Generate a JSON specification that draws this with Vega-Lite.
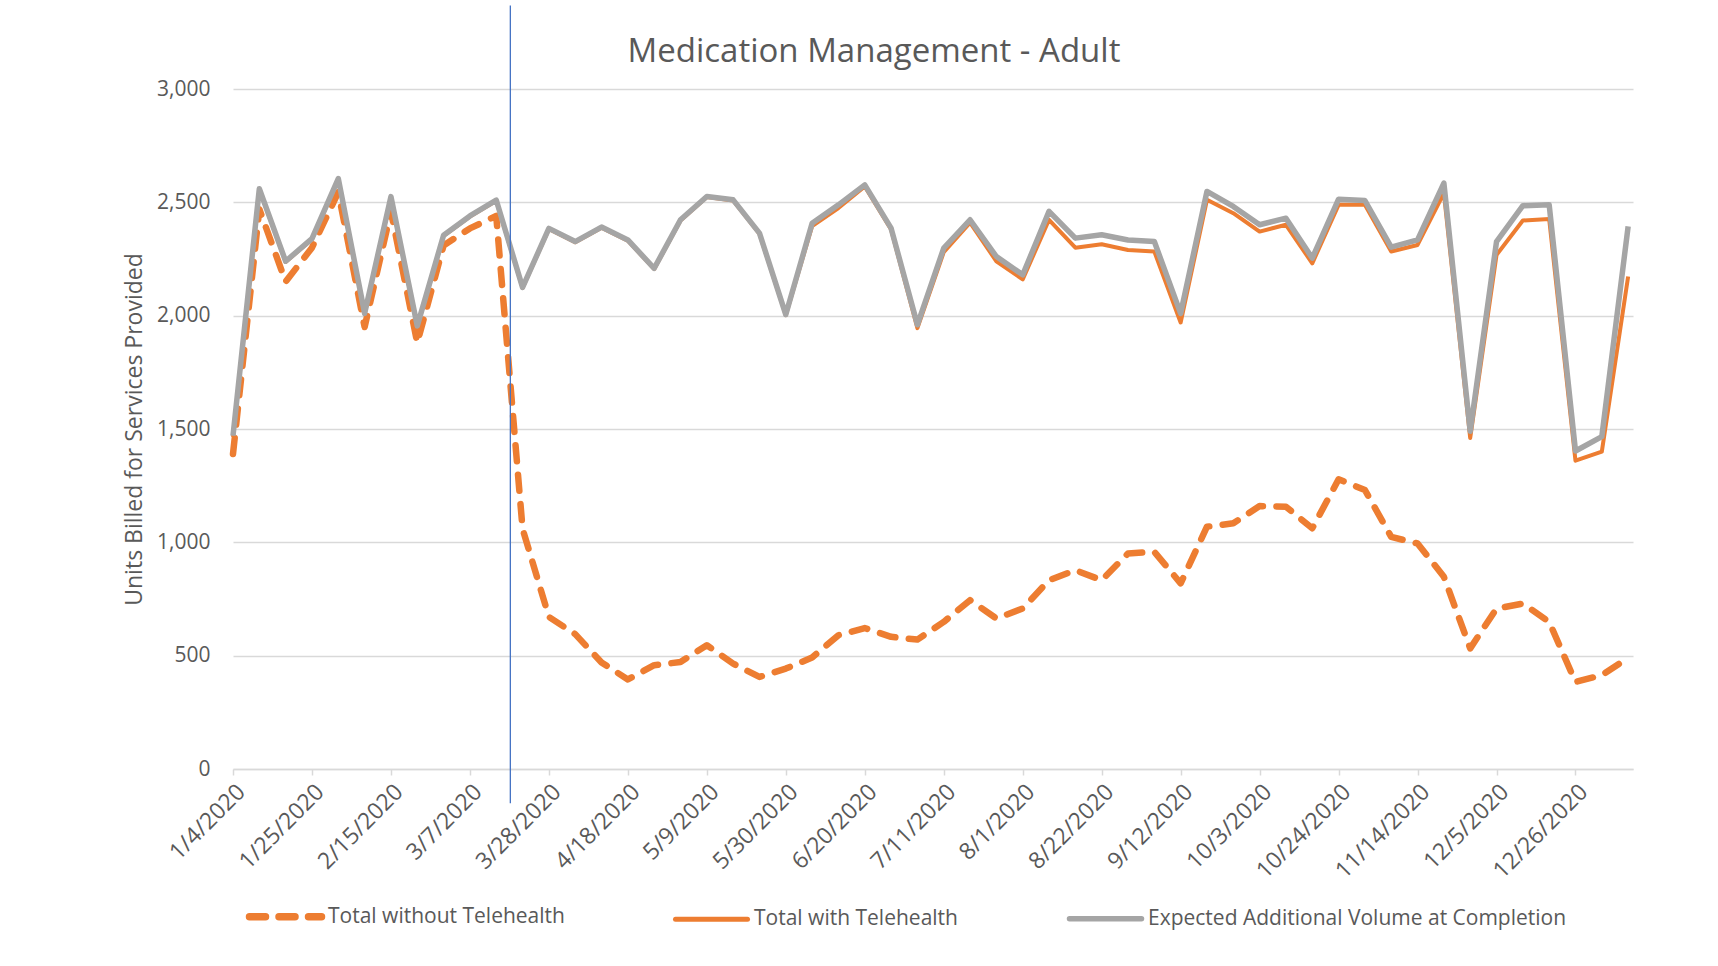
{
  "$schema": "https://vega.github.io/schema/vega-lite/v6.json",
  "width": 1400,
  "height": 680,
  "autosize": {"type": "none"},
  "padding": {"left": 233, "top": 89, "right": 85, "bottom": 197},
  "background": "white",
  "config": {
    "font": "Open Sans",
    "view": {"stroke": null}
  },
  "title": {
    "text": "Medication Management - Adult",
    "font": "Open Sans",
    "fontSize": 33,
    "fontWeight": "normal",
    "color": "#595959",
    "anchor": "middle",
    "frame": "group",
    "dx": -59,
    "offset": -90,
    "baseline": "alphabetic"
  },
  "data": {
    "values": [
      {"date": "2020-01-04T00:00:00", "without_telehealth": 1390, "with_telehealth": 1465, "expected_volume": 1470},
      {"date": "2020-01-11T00:00:00", "without_telehealth": 2470, "with_telehealth": 2557, "expected_volume": 2560},
      {"date": "2020-01-18T00:00:00", "without_telehealth": 2150, "with_telehealth": 2237, "expected_volume": 2240},
      {"date": "2020-01-25T00:00:00", "without_telehealth": 2300, "with_telehealth": 2337, "expected_volume": 2340},
      {"date": "2020-02-01T00:00:00", "without_telehealth": 2545, "with_telehealth": 2602, "expected_volume": 2605},
      {"date": "2020-02-08T00:00:00", "without_telehealth": 1950, "with_telehealth": 2007, "expected_volume": 2010},
      {"date": "2020-02-15T00:00:00", "without_telehealth": 2460, "with_telehealth": 2522, "expected_volume": 2525},
      {"date": "2020-02-22T00:00:00", "without_telehealth": 1880, "with_telehealth": 1952, "expected_volume": 1955},
      {"date": "2020-02-29T00:00:00", "without_telehealth": 2310, "with_telehealth": 2352, "expected_volume": 2355},
      {"date": "2020-03-07T00:00:00", "without_telehealth": 2385, "with_telehealth": 2437, "expected_volume": 2440},
      {"date": "2020-03-14T00:00:00", "without_telehealth": 2440, "with_telehealth": 2507, "expected_volume": 2510},
      {"date": "2020-03-21T00:00:00", "without_telehealth": 1060, "with_telehealth": 2122, "expected_volume": 2125},
      {"date": "2020-03-28T00:00:00", "without_telehealth": 671, "with_telehealth": 2382, "expected_volume": 2385},
      {"date": "2020-04-04T00:00:00", "without_telehealth": 595, "with_telehealth": 2324, "expected_volume": 2327},
      {"date": "2020-04-11T00:00:00", "without_telehealth": 470, "with_telehealth": 2388, "expected_volume": 2391},
      {"date": "2020-04-18T00:00:00", "without_telehealth": 395, "with_telehealth": 2331, "expected_volume": 2334},
      {"date": "2020-04-25T00:00:00", "without_telehealth": 458, "with_telehealth": 2206, "expected_volume": 2209},
      {"date": "2020-05-02T00:00:00", "without_telehealth": 472, "with_telehealth": 2420, "expected_volume": 2423},
      {"date": "2020-05-09T00:00:00", "without_telehealth": 546, "with_telehealth": 2523, "expected_volume": 2526},
      {"date": "2020-05-16T00:00:00", "without_telehealth": 465, "with_telehealth": 2508, "expected_volume": 2511},
      {"date": "2020-05-23T00:00:00", "without_telehealth": 406, "with_telehealth": 2361, "expected_volume": 2364},
      {"date": "2020-05-30T00:00:00", "without_telehealth": 443, "with_telehealth": 2002, "expected_volume": 2005},
      {"date": "2020-06-06T00:00:00", "without_telehealth": 492, "with_telehealth": 2395, "expected_volume": 2408},
      {"date": "2020-06-13T00:00:00", "without_telehealth": 590, "with_telehealth": 2475, "expected_volume": 2489},
      {"date": "2020-06-20T00:00:00", "without_telehealth": 622, "with_telehealth": 2570, "expected_volume": 2577},
      {"date": "2020-06-27T00:00:00", "without_telehealth": 583, "with_telehealth": 2380, "expected_volume": 2386},
      {"date": "2020-07-04T00:00:00", "without_telehealth": 571, "with_telehealth": 1945, "expected_volume": 1960},
      {"date": "2020-07-11T00:00:00", "without_telehealth": 649, "with_telehealth": 2280, "expected_volume": 2298},
      {"date": "2020-07-18T00:00:00", "without_telehealth": 745, "with_telehealth": 2410, "expected_volume": 2423},
      {"date": "2020-07-25T00:00:00", "without_telehealth": 664, "with_telehealth": 2240, "expected_volume": 2261},
      {"date": "2020-08-01T00:00:00", "without_telehealth": 708, "with_telehealth": 2160, "expected_volume": 2180},
      {"date": "2020-08-08T00:00:00", "without_telehealth": 833, "with_telehealth": 2423, "expected_volume": 2460},
      {"date": "2020-08-15T00:00:00", "without_telehealth": 877, "with_telehealth": 2300, "expected_volume": 2342},
      {"date": "2020-08-22T00:00:00", "without_telehealth": 833, "with_telehealth": 2315, "expected_volume": 2357},
      {"date": "2020-08-29T00:00:00", "without_telehealth": 951, "with_telehealth": 2290, "expected_volume": 2334},
      {"date": "2020-09-05T00:00:00", "without_telehealth": 958, "with_telehealth": 2283, "expected_volume": 2327},
      {"date": "2020-09-12T00:00:00", "without_telehealth": 819, "with_telehealth": 1970, "expected_volume": 2010},
      {"date": "2020-09-19T00:00:00", "without_telehealth": 1069, "with_telehealth": 2511, "expected_volume": 2548},
      {"date": "2020-09-26T00:00:00", "without_telehealth": 1084, "with_telehealth": 2452, "expected_volume": 2482},
      {"date": "2020-10-03T00:00:00", "without_telehealth": 1160, "with_telehealth": 2371, "expected_volume": 2401},
      {"date": "2020-10-10T00:00:00", "without_telehealth": 1157, "with_telehealth": 2401, "expected_volume": 2430},
      {"date": "2020-10-17T00:00:00", "without_telehealth": 1062, "with_telehealth": 2231, "expected_volume": 2254},
      {"date": "2020-10-24T00:00:00", "without_telehealth": 1278, "with_telehealth": 2489, "expected_volume": 2514},
      {"date": "2020-10-31T00:00:00", "without_telehealth": 1231, "with_telehealth": 2489, "expected_volume": 2508},
      {"date": "2020-11-07T00:00:00", "without_telehealth": 1024, "with_telehealth": 2283, "expected_volume": 2302},
      {"date": "2020-11-14T00:00:00", "without_telehealth": 995, "with_telehealth": 2312, "expected_volume": 2334},
      {"date": "2020-11-21T00:00:00", "without_telehealth": 848, "with_telehealth": 2541, "expected_volume": 2585},
      {"date": "2020-11-28T00:00:00", "without_telehealth": 532, "with_telehealth": 1460, "expected_volume": 1490},
      {"date": "2020-12-05T00:00:00", "without_telehealth": 708, "with_telehealth": 2268, "expected_volume": 2327},
      {"date": "2020-12-12T00:00:00", "without_telehealth": 730, "with_telehealth": 2420, "expected_volume": 2485},
      {"date": "2020-12-19T00:00:00", "without_telehealth": 649, "with_telehealth": 2426, "expected_volume": 2489},
      {"date": "2020-12-26T00:00:00", "without_telehealth": 384, "with_telehealth": 1360, "expected_volume": 1403},
      {"date": "2021-01-02T00:00:00", "without_telehealth": 414, "with_telehealth": 1400, "expected_volume": 1466},
      {"date": "2021-01-09T00:00:00", "without_telehealth": 490, "with_telehealth": 2173, "expected_volume": 2394}
    ]
  },
  "layer": [
    {
      "mark": {"type": "line", "strokeWidth": 6.5, "strokeDash": [16, 13.5], "strokeCap": "round", "strokeJoin": "round"},
      "encoding": {
        "x": {
          "field": "date",
          "type": "temporal",
          "title": null,
          "scale": {"domain": [{"year": 2020, "month": 1, "date": 4}, {"year": 2021, "month": 1, "date": 10, "hours": 7}], "nice": false},
          "axis": {
            "values": [
              {"year": 2020, "month": 1, "date": 4}, {"year": 2020, "month": 1, "date": 25}, {"year": 2020, "month": 2, "date": 15},
              {"year": 2020, "month": 3, "date": 7}, {"year": 2020, "month": 3, "date": 28}, {"year": 2020, "month": 4, "date": 18},
              {"year": 2020, "month": 5, "date": 9}, {"year": 2020, "month": 5, "date": 30}, {"year": 2020, "month": 6, "date": 20},
              {"year": 2020, "month": 7, "date": 11}, {"year": 2020, "month": 8, "date": 1}, {"year": 2020, "month": 8, "date": 22},
              {"year": 2020, "month": 9, "date": 12}, {"year": 2020, "month": 10, "date": 3}, {"year": 2020, "month": 10, "date": 24},
              {"year": 2020, "month": 11, "date": 14}, {"year": 2020, "month": 12, "date": 5}, {"year": 2020, "month": 12, "date": 26}
            ],
            "format": "%-m/%-d/%Y",
            "labelAngle": -45,
            "labelAlign": "right",
            "labelBaseline": "middle",
            "labelFont": "Open Sans",
            "labelFontSize": 23,
            "labelColor": "#595959",
            "labelPadding": 13,
            "labelOffset": 8,
            "labelOverlap": false,
            "labelFlush": false,
            "tickSize": 6,
            "tickColor": "#D9D9D9",
            "tickWidth": 1.5,
            "domainColor": "#D9D9D9",
            "domainWidth": 1.5,
            "grid": false
          }
        },
        "y": {
          "field": "without_telehealth",
          "type": "quantitative",
          "title": "Units Billed for Services Provided",
          "scale": {"domain": [0, 3000], "nice": false},
          "axis": {
            "values": [0, 500, 1000, 1500, 2000, 2500, 3000],
            "format": ",.0f",
            "labelFont": "Open Sans",
            "labelFontSize": 21,
            "labelColor": "#595959",
            "labelPadding": 23,
            "ticks": false,
            "domain": false,
            "grid": true,
            "gridColor": "#D9D9D9",
            "gridWidth": 1.5,
            "titleFont": "Open Sans",
            "titleFontSize": 23,
            "titleFontWeight": "normal",
            "titleColor": "#595959",
            "titleAngle": 270,
            "titleAlign": "center",
            "titleBaseline": "middle",
            "titleX": -99,
            "titleY": 340
          }
        },
        "color": {
          "datum": "Total without Telehealth",
          "type": "nominal",
          "scale": {
            "domain": ["Total without Telehealth", "Total with Telehealth", "Expected Additional Volume at Completion"],
            "range": ["#ED7D31", "#ED7D31", "#A5A5A5"]
          },
          "legend": {
            "title": null,
            "orient": "none",
            "legendX": 42,
            "legendY": 817,
            "direction": "horizontal",
            "symbolType": "stroke",
            "symbolSize": 5184,
            "symbolStrokeWidth": 6,
            "labelFont": "Open Sans",
            "labelFontSize": 21,
            "labelColor": "#595959",
            "labelOffset": 32,
            "columnPadding": 100,
            "labelLimit": 600,
            "encode": {
              "symbols": {
                "update": {
                  "strokeDash": {"signal": "datum.value === 'Total without Telehealth' ? [16, 13.5] : [1000, 0]"},
                  "strokeWidth": {"signal": "datum.value === 'Total without Telehealth' ? 7.5 : (datum.value === 'Total with Telehealth' ? 5 : 5.5)"},
                  "strokeCap": {"value": "round"}
                }
              }
            }
          }
        }
      }
    },
    {
      "mark": {"type": "line", "strokeWidth": 4, "strokeJoin": "round"},
      "encoding": {
        "x": {"field": "date", "type": "temporal", "title": null},
        "y": {"field": "with_telehealth", "type": "quantitative", "title": "Units Billed for Services Provided"},
        "color": {"datum": "Total with Telehealth", "type": "nominal"}
      }
    },
    {
      "mark": {"type": "line", "strokeWidth": 5.5, "strokeJoin": "round"},
      "encoding": {
        "x": {"field": "date", "type": "temporal", "title": null},
        "y": {"field": "expected_volume", "type": "quantitative", "title": "Units Billed for Services Provided"},
        "color": {"datum": "Expected Additional Volume at Completion", "type": "nominal"}
      }
    },
    {
      "data": {"values": [{"date": "2020-03-17T18:00:00"}]},
      "mark": {"type": "rule", "clip": false, "color": "#4472C4", "strokeWidth": 1.3},
      "encoding": {
        "x": {"field": "date", "type": "temporal", "title": null},
        "y": {"datum": 3368, "type": "quantitative", "title": "Units Billed for Services Provided"},
        "y2": {"datum": -151}
      }
    }
  ]
}
